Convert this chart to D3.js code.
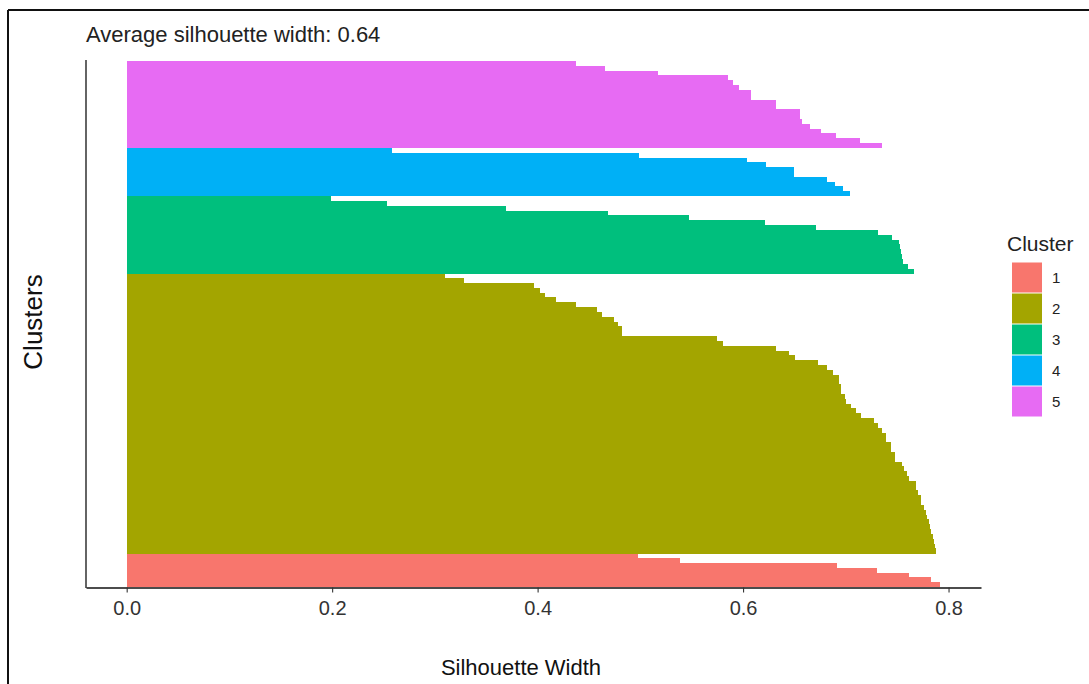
<!DOCTYPE html>
<html>
<head>
<meta charset="utf-8">
<script src="https://cdn.jsdelivr.net/npm/d3@7"></script>
<style>
  html, body { margin: 0; padding: 0; background: #fff; }
  svg { display: block; }
  text { font-family: "Liberation Sans", Arial, sans-serif; }
</style>
</head>
<body>
<svg id="chart" width="1089" height="684"></svg>
<script>
// ---- data (silhouette widths, each cluster sorted in decreasing order) ----
const clusterNames = ["1", "2", "3", "4", "5"];
const clusterColors = ["#F8766D", "#A3A500", "#00BF7D", "#00B0F6", "#E76BF3"];
const sil1 = [0.792, 0.783, 0.762, 0.730, 0.691, 0.539, 0.498];
const sil2 = [0.788, 0.787, 0.786, 0.785, 0.783, 0.782, 0.781, 0.779, 0.778, 0.776,
              0.773, 0.773, 0.770, 0.768, 0.768, 0.762, 0.760, 0.757, 0.755, 0.748,
              0.748, 0.744, 0.744, 0.739, 0.739, 0.735, 0.731, 0.727, 0.715, 0.710,
              0.705, 0.700, 0.699, 0.695, 0.695, 0.693, 0.693, 0.688, 0.682, 0.673,
              0.651, 0.645, 0.632, 0.580, 0.575, 0.482, 0.482, 0.478, 0.474, 0.463,
              0.458, 0.437, 0.418, 0.407, 0.402, 0.396, 0.328, 0.310];
const sil3 = [0.766, 0.761, 0.756, 0.755, 0.754, 0.753, 0.752, 0.745, 0.731, 0.671,
              0.621, 0.547, 0.469, 0.369, 0.253, 0.199];
const sil4 = [0.704, 0.697, 0.689, 0.682, 0.650, 0.650, 0.622, 0.604, 0.499, 0.258];
const sil5 = [0.735, 0.714, 0.690, 0.676, 0.665, 0.657, 0.655, 0.655, 0.632, 0.632,
              0.608, 0.608, 0.596, 0.590, 0.585, 0.517, 0.466, 0.437];
const xTicks = [0.0, 0.2, 0.4, 0.6, 0.8];
const titleText = "Average silhouette width: 0.64";
const xTitle = "Silhouette Width";
const yTitle = "Clusters";
const legendTitle = "Cluster";

// ---- build observation table ----
const allSil = [sil1, sil2, sil3, sil4, sil5];
const obs = [];
allSil.forEach((arr, ci) => arr.forEach(v => obs.push({ id: obs.length, cluster: clusterNames[ci], sil: v })));

// ---- layout ----
const svg = d3.select("#chart");
const panel = { left: 86, right: 981, top: 61, bottom: 587 };

// outer frame (top and left edge visible)
svg.append("line").attr("x1", 8).attr("x2", 1089).attr("y1", 10).attr("y2", 10)
  .attr("stroke", "#111").attr("stroke-width", 2);
svg.append("line").attr("x1", 8).attr("x2", 8).attr("y1", 10).attr("y2", 684)
  .attr("stroke", "#111").attr("stroke-width", 2);

const maxV = d3.max(obs, d => d.sil);
const pad = maxV * 0.05;
const x = d3.scaleLinear().domain([0 - pad, maxV + pad]).range([panel.left, panel.right]);
const y = d3.scaleBand().domain(obs.map(d => d.id)).range([panel.bottom, panel.top]).padding(0);
const color = d3.scaleOrdinal().domain(clusterNames).range(clusterColors);

// bars
svg.append("g").selectAll("rect").data(obs).join("rect")
  .attr("x", x(0))
  .attr("y", d => y(d.id))
  .attr("width", d => x(d.sil) - x(0))
  .attr("height", y.bandwidth() + 0.3)
  .attr("fill", d => color(d.cluster))
  .attr("shape-rendering", "crispEdges");

// x axis
const xAxis = d3.axisBottom(x).tickValues(xTicks).tickFormat(d3.format(".1f")).tickSize(5).tickSizeOuter(0);
const gx = svg.append("g").attr("transform", `translate(0,${panel.bottom + 0.5})`).call(xAxis);
gx.select(".domain").attr("stroke", "#111").attr("stroke-width", 1.3);
gx.selectAll(".tick line").attr("stroke", "#333").attr("stroke-width", 1.1);
gx.selectAll(".tick text").attr("font-size", 20).attr("fill", "#333").attr("dy", "0.98em")
  .attr("font-family", "'Liberation Sans', Arial, sans-serif");

// y axis line (no ticks)
svg.append("line").attr("x1", panel.left).attr("x2", panel.left)
  .attr("y1", panel.top - 1).attr("y2", panel.bottom + 1)
  .attr("stroke", "#111").attr("stroke-width", 1.3);

// titles
svg.append("text").attr("x", panel.left).attr("y", 42).attr("font-size", 22)
  .attr("fill", "#222").text(titleText);
svg.append("text").attr("x", 521).attr("y", 675).attr("text-anchor", "middle")
  .attr("font-size", 22).attr("fill", "#111").text(xTitle);
svg.append("text").attr("transform", `translate(42,${(panel.top + panel.bottom) / 2 - 2}) rotate(-90)`)
  .attr("text-anchor", "middle").attr("font-size", 26).attr("fill", "#111").text(yTitle);

// legend
const lg = svg.append("g").attr("transform", "translate(1007,0)");
lg.append("text").attr("x", 0).attr("y", 251).attr("font-size", 21).attr("fill", "#222").text(legendTitle);
const keyH = 31, keyW = 30, keyTop = 262;
clusterNames.forEach((c, i) => {
  lg.append("rect").attr("x", 5).attr("y", keyTop + i * keyH + 0.5)
    .attr("width", keyW).attr("height", keyH - 1)
    .attr("fill", color(c));
  lg.append("text").attr("x", 45).attr("y", keyTop + i * keyH + keyH / 2 + 5.5)
    .attr("font-size", 15).attr("fill", "#222").text(c);
});
</script>
</body>
</html>
